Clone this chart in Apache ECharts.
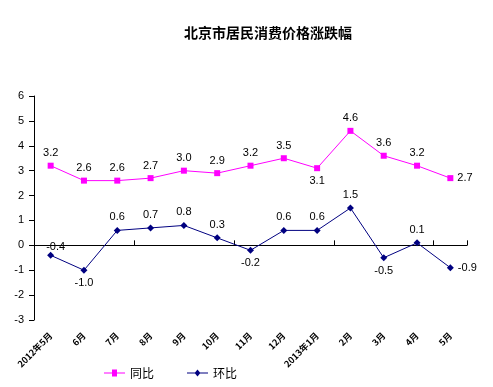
<!DOCTYPE html>
<html><head><meta charset="utf-8">
<script src="https://cdn.jsdelivr.net/npm/echarts@6/dist/echarts.min.js"></script>
<style>html,body{margin:0;padding:0;background:#fff}#c{width:493px;height:387px}</style>
</head><body><div id="c"></div>
<script>
var categories = ['2012年5月','6月','7月','8月','9月','10月','11月','12月','2013年1月','2月','3月','4月','5月'];
var tongbi = [3.2,2.6,2.6,2.7,3.0,2.9,3.2,3.5,3.1,4.6,3.6,3.2,2.7];
var huanbi = [-0.4,-1.0,0.6,0.7,0.8,0.3,-0.2,0.6,0.6,1.5,-0.5,0.1,-0.9];
var yTicks = [-3,-2,-1,0,1,2,3,4,5,6];
var tbPos = ['top','top','top','top','top','top','top','top','bottom','top','top','top','right'];
var hbPos = ['top','bottom','top','top','top','top','bottom','top','top','top','bottom','top','right'];
var font = '"Liberation Sans","Noto Sans CJK SC",sans-serif';
function mk(vals, pos){ return vals.map(function(v,i){
  var o = {value:v, label:{position:pos[i]}};
  if (i === 0 && pos === hbPos) o.label.offset = [5,5];
  return o; }); }
var chart = echarts.init(document.getElementById('c'));
chart.setOption({
  animation:false,
  title:{text:'北京市居民消费价格涨跌幅', left:263, top:21, textAlign:'center',
    textStyle:{fontSize:14, fontWeight:'bold', color:'#000', fontFamily:'"Noto Sans CJK SC",sans-serif'}},
  legend:{bottom:3, left:99, itemGap:33, itemWidth:21, itemHeight:7,
    textStyle:{fontSize:12, color:'#000', fontFamily:'"Noto Sans CJK SC",sans-serif'},
    data:[{name:'同比', icon:'path://M0,3L8,3L8,0L13,0L13,3L21,3L21,4L13,4L13,7L8,7L8,4L0,4Z'},
          {name:'环比', icon:'path://M0,3L8,3L10.5,0L13,3L21,3L21,4L13,4L10.5,7L8,4L0,4Z'}]},
  grid:{left:34, right:26, top:96, bottom:67},
  xAxis:[{type:'category', data:categories, boundaryGap:true,
      axisLine:{onZero:true, lineStyle:{color:'#000', width:1}},
      axisTick:{show:true, inside:true, length:5, lineStyle:{color:'#000'}},
      axisLabel:{show:false}},
    {type:'category', data:categories, position:'bottom', boundaryGap:true,
      axisLine:{show:false}, axisTick:{show:false},
      axisLabel:{rotate:45, interval:0, fontSize:9, fontWeight:'bold', color:'#000', margin:14,
        fontFamily:'"Noto Sans CJK SC",sans-serif'}}],
  yAxis:{type:'value', min:-3, max:6, interval:1,
    axisLine:{show:true, lineStyle:{color:'#000'}},
    axisTick:{show:true, length:5, lineStyle:{color:'#000'}},
    splitLine:{show:false},
    axisLabel:{fontSize:11, color:'#000', margin:10, fontFamily:font,
      formatter:function(v){return yTicks.indexOf(v)>=0 ? String(v) : '';}}},
  series:[
    {name:'同比', type:'line', xAxisIndex:0, data:mk(tongbi,tbPos), symbol:'rect', symbolSize:6,
      itemStyle:{color:'#FF00FF'}, lineStyle:{color:'#FF00FF', width:1},
      label:{show:true, fontSize:11, color:'#000', fontFamily:font, distance:4,
        formatter:function(p){return p.value.toFixed(1);}}},
    {name:'环比', type:'line', xAxisIndex:0, data:mk(huanbi,hbPos), symbol:'diamond', symbolSize:7,
      itemStyle:{color:'#000080'}, lineStyle:{color:'#000080', width:1},
      label:{show:true, fontSize:11, color:'#000', fontFamily:font, distance:4,
        formatter:function(p){return p.value.toFixed(1);}}}
  ]
});
</script></body></html>
